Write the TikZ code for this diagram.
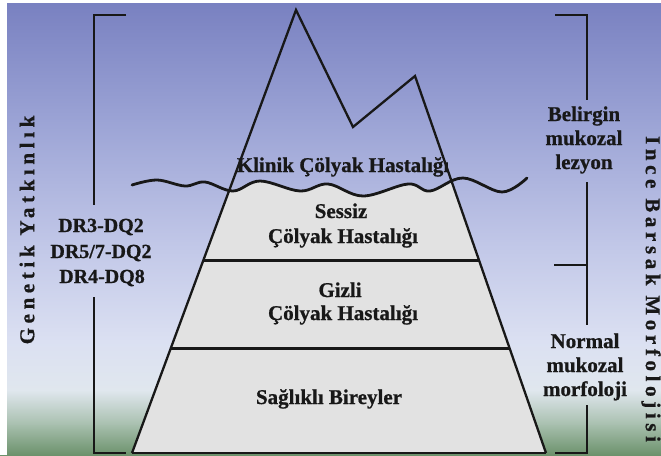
\documentclass[tikz,border=0pt]{standalone}
\usepackage{fontspec}
\setmainfont[BoldFeatures={FakeBold=0.8}]{Liberation Serif}
\newfontfamily\spacedserif[LetterSpace=22,BoldFeatures={FakeBold=0.8}]{Liberation Serif}
\definecolor{bgA}{RGB}{120,128,192}
\definecolor{bgB}{RGB}{155,163,213}
\definecolor{bgC}{RGB}{192,198,231}
\definecolor{bgD}{RGB}{219,224,242}
\definecolor{bgE}{RGB}{224,231,238}
\definecolor{bgF}{RGB}{166,190,172}
\definecolor{bgG}{RGB}{108,146,108}
\definecolor{pyrgray}{RGB}{226,226,226}
\definecolor{ink}{RGB}{24,24,24}
\begin{document}
\begin{tikzpicture}[x=1pt,y=-1pt,
  txt/.style={font=\fontsize{21}{25}\selectfont\bfseries, text=ink, inner sep=0pt, anchor=base},
  drtxt/.style={font=\fontsize{20}{24}\selectfont\bfseries, text=ink, inner sep=0pt, anchor=base},
  rottxt/.style={font=\spacedserif\bfseries\fontsize{21}{25}\selectfont, text=ink, inner sep=0pt},
  bracket/.style={line width=2.5pt, draw=ink},
  pyredge/.style={line width=2.3pt, draw=ink, line join=miter},
  divider/.style={line width=3pt, draw=ink},
  wave/.style={line width=2.8pt, draw=ink, line cap=round}]
\useasboundingbox (0,0) rectangle (661,455);
% background
\shade[top color=bgA,bottom color=bgB] (0,0) rectangle (661,121);
\shade[top color=bgB,bottom color=bgC] (0,120) rectangle (661,241);
\shade[top color=bgC,bottom color=bgD] (0,240) rectangle (661,341);
\shade[top color=bgD,bottom color=bgE] (0,340) rectangle (661,391);
\shade[top color=bgE,bottom color=bgF] (0,390) rectangle (661,426);
\shade[top color=bgF,bottom color=bgG] (0,425) rectangle (661,455);
\fill[white] (0,0) rectangle (661,3);
\fill[white] (0,0) rectangle (7,455);
% pyramid
\coordinate (BL) at (132,453);
\coordinate (P1) at (296,10);
\coordinate (V) at (353,127);
\coordinate (P2) at (415,76);
\coordinate (BR) at (546,453);
\begin{scope}
\clip (BL) -- (P1) -- (V) -- (P2) -- (BR) -- cycle;
\fill[pyrgray] plot[smooth, tension=0.6] coordinates {(132,185) (157,180) (185,186) (205,182) (233,191) (260,181) (300,191) (328,184) (363,196) (408,184) (430,191) (463,178) (502,192) (527,178)} -- (560,470) -- (120,470) -- cycle;
\end{scope}
\draw[pyredge] (BL) -- (P1) -- (V) -- (P2) -- (BR);
\draw[line width=1.6pt, ink] (BL) -- (BR);
\coordinate (D1L) at (203.4,260);
\coordinate (D1R) at (478.9,260);
\coordinate (D2L) at (170.9,348);
\coordinate (D2R) at (509.5,348);
\draw[divider] (D1L) -- (D1R);
\draw[divider] (D2L) -- (D2R);
\draw[wave] plot[smooth, tension=0.6] coordinates {(132,185) (157,180) (185,186) (205,182) (233,191) (260,181) (300,191) (328,184) (363,196) (408,184) (430,191) (463,178) (502,192) (527,178)};
% brackets
\coordinate (LT) at (126,15);
\coordinate (LTc) at (94,15);
\coordinate (LA) at (94,205);
\coordinate (LB) at (94,297);
\coordinate (LBc) at (94,453);
\coordinate (LBe) at (126,453);
\draw[bracket] (LT) -- (LTc) -- (LA);
\draw[bracket] (LB) -- (LBc) -- (LBe);
\coordinate (RT) at (555,15);
\coordinate (RTc) at (587,15);
\coordinate (RA) at (587,100);
\coordinate (RB) at (587,182);
\coordinate (RC) at (587,325);
\coordinate (RM) at (587,265);
\coordinate (RMe) at (554,265);
\coordinate (RD) at (587,405);
\coordinate (RDc) at (587,453);
\coordinate (RDe) at (555,453);
\draw[bracket] (RT) -- (RTc) -- (RA);
\draw[bracket] (RB) -- (RC);
\draw[bracket] (RMe) -- (RM);
\draw[bracket] (RD) -- (RDc) -- (RDe);
% pyramid texts
\node[txt] (klinik) at (343,172) {Klinik Çölyak Hastalığı};
\node[txt] (sessiz) at (341,218) {Sessiz};
\node[txt] (sessizb) at (343,243) {Çölyak Hastalığı};
\node[txt] (gizli) at (340,297) {Gizli};
\node[txt] (gizlib) at (343,320) {Çölyak Hastalığı};
\node[txt] (saglikli) at (329,404) {Sağlıklı Bireyler};
% left texts
\node[drtxt] (dra) at (101,232) {DR3-DQ2};
\node[drtxt] (drb) at (101,258) {DR5/7-DQ2};
\node[drtxt] (drc) at (102,283) {DR4-DQ8};
\node[rottxt, rotate=90] (genetik) at (27,230) {Genetik Yatkınlık};
% right texts
\node[txt] (bela) at (584,121) {Belirgin};
\node[txt] (belb) at (584,145) {mukozal};
\node[txt] (belc) at (584,169) {lezyon};
\node[txt] (nora) at (585,348) {Normal};
\node[txt] (norb) at (585,372) {mukozal};
\node[txt] (norc) at (585,396) {morfoloji};
\node[rottxt, rotate=-90] (ince) at (651,289) {Ince Barsak Morfolojisi};
\end{tikzpicture}
\end{document}
